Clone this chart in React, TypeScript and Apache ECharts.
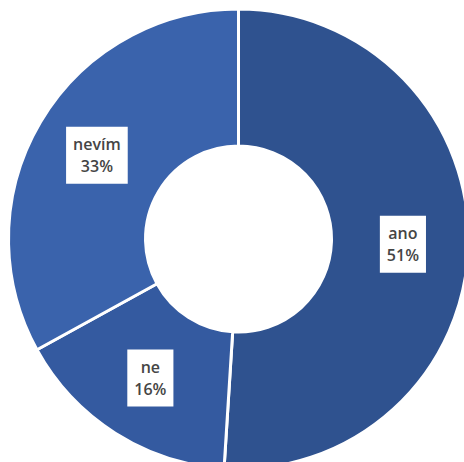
import React, { useEffect, useRef } from "react";
import * as echarts from "echarts";

const categories = ["ano", "ne", "nevím"];
const values = [51, 16, 33];
const colors = ["#2F528F", "#345AA0", "#3A63AC"];

export default function App() {
  const ref = useRef<HTMLDivElement>(null);
  useEffect(() => {
    if (!ref.current) return;
    const chart = echarts.init(ref.current, null, { renderer: "svg" });
    chart.setOption({
      animation: false,
      backgroundColor: "#ffffff",
      series: [
        {
          type: "pie",
          center: [238.5, 239],
          radius: [93, 230],
          startAngle: 90,
          clockwise: true,
          data: categories.map((c, i) => ({
            name: c,
            value: values[i],
            itemStyle: { color: colors[i] },
          })),
          itemStyle: { borderColor: "#ffffff", borderWidth: 3 },
          label: {
            show: true,
            position: "inside",
            formatter: (p: any) => `${p.name}\n${p.percent.toFixed(0)}%`,
            backgroundColor: "#ffffff",
            color: "#454545",
            fontFamily: "Open Sans",
            fontWeight: 600,
            fontSize: 16,
            lineHeight: 22,
            padding: [7, 7, 6, 7],
            align: "center",
          },
          labelLine: { show: false },
          emphasis: { disabled: true },
        },
      ],
    });
    return () => chart.dispose();
  }, []);
  return (
    <div
      ref={ref}
      style={{ position: "absolute", left: 0, top: 0, width: 464, height: 462 }}
    />
  );
}
